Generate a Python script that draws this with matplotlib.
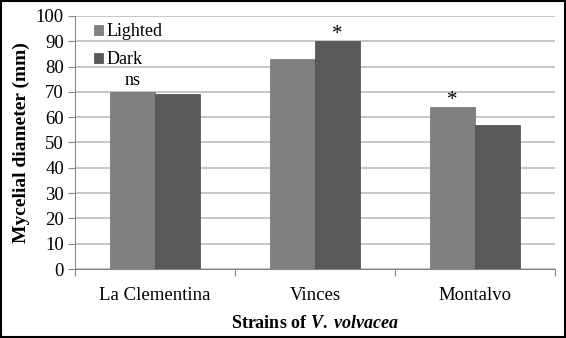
import numpy as np
import matplotlib.pyplot as plt

strains = ['La Clementina', 'Vinces', 'Montalvo']
lighted = [70, 83, 64]
dark = [69, 90, 57]
# significance marks: (strain index, series, text)
marks = [(0, 'lighted', 'ns'), (1, 'dark', '*'), (2, 'lighted', '*')]

plt.rcParams['font.family'] = ['Liberation Serif', 'DejaVu Serif']
plt.rcParams['mathtext.fontset'] = 'custom'
plt.rcParams['mathtext.it'] = 'Liberation Serif:italic:bold'
plt.rcParams['mathtext.rm'] = 'Liberation Serif:bold'

fig = plt.figure(figsize=(5.66, 3.38), dpi=100)
ax = fig.add_axes([0.1325, 0.204, 0.848, 0.749])

x = np.arange(len(strains))
w = 0.28
ax.bar(x - w / 2, lighted, w, color='#808080', edgecolor='#6e6e6e', linewidth=0.5, label='Lighted', zorder=3)
ax.bar(x + w / 2, dark, w, color='#595959', edgecolor='#4a4a4a', linewidth=0.5, label='Dark', zorder=3)

for i, series, txt in marks:
    if series == 'lighted':
        xp, yp = x[i] - w / 2, lighted[i]
    else:
        xp, yp = x[i] + w / 2, dark[i]
    if txt == '*':
        ax.text(xp, yp + 2.6, txt, ha='center', va='center', fontsize=15)
    else:
        ax.text(xp, yp + 4.3, txt, ha='center', va='center', fontsize=13)

ax.set_xlim(-0.5, 2.5)
ax.set_ylim(0, 100)
ax.set_yticks(np.arange(0, 101, 10))
ax.set_xticks(x)
ax.set_xticklabels(strains, fontsize=13.5)
ax.set_xticks([-0.5, 0.5, 1.5, 2.5], minor=True)
ax.tick_params(axis='x', which='major', length=0, pad=13)
ax.tick_params(axis='x', which='minor', length=5, color='#888888', width=0.8)
ax.tick_params(axis='y', which='major', length=5, color='#888888', width=0.8, labelsize=13.5, pad=3)
ax.grid(axis='y', color='#bdbdbd', linewidth=1.2, zorder=0)
ax.set_axisbelow(True)

for s in ['top', 'right']:
    ax.spines[s].set_visible(False)
for s in ['left', 'bottom']:
    ax.spines[s].set_color('#888888')
    ax.spines[s].set_linewidth(0.8)

ax.set_ylabel('Mycelial diameter (mm)', fontsize=14, fontweight='bold', labelpad=4)
ax.set_xlabel('Strains of $\\it{V.}$ $\\it{volvacea}$', fontsize=13, fontweight='bold', labelpad=8)

ax.legend(loc='upper left', bbox_to_anchor=(0.005, 1.035), frameon=False, fontsize=13,
          handlelength=0.5, handleheight=0.5, handletextpad=0.2, labelspacing=0.6)

fig.patches.append(plt.Rectangle((0.002, 0.003), 0.996, 0.994, transform=fig.transFigure,
                                 fill=False, edgecolor='black', linewidth=1.5))

plt.savefig('out.png', dpi=100)
plt.close()
